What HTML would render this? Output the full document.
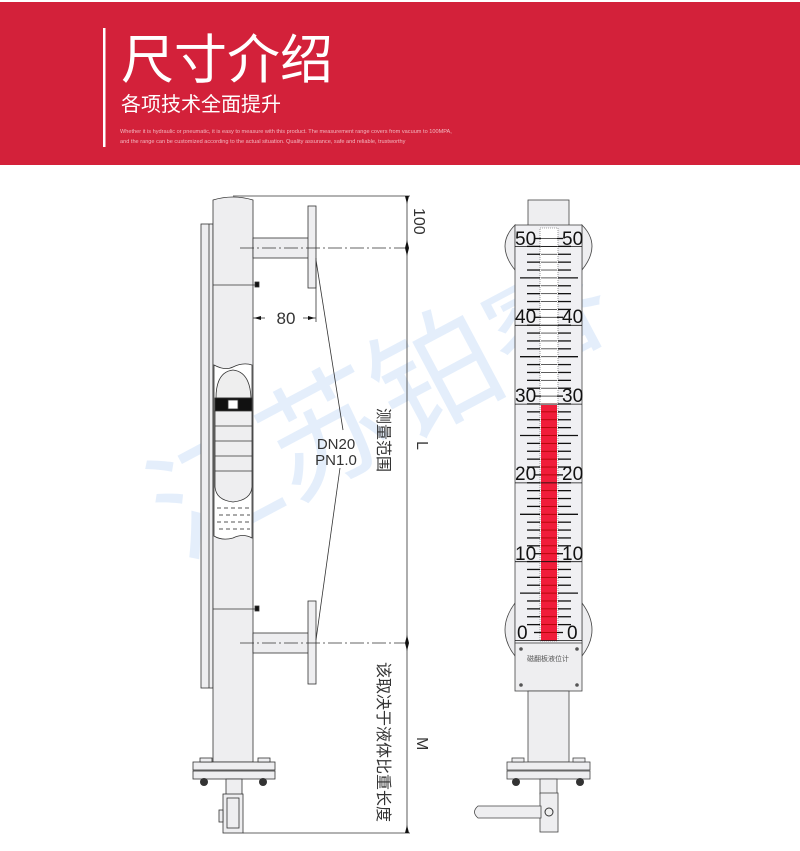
<!DOCTYPE html>
<html><head><meta charset="utf-8"><style>
html,body{margin:0;padding:0;background:#fff;width:800px;height:851px;overflow:hidden}
svg{display:block}
text{font-family:"Liberation Sans","Noto Sans CJK SC",sans-serif}
</style></head><body>
<svg width="800" height="851" viewBox="0 0 800 851" xmlns="http://www.w3.org/2000/svg">
<rect x="0" y="2" width="800" height="163" fill="#d3213a"/>
<rect x="103" y="28" width="2.5" height="119" fill="#fff"/>
<text x="121" y="78" font-size="53" fill="#fff" font-family="'Noto Sans CJK SC',sans-serif">尺寸介绍</text>
<text x="121" y="111" font-size="20" fill="#fff" font-family="'Noto Sans CJK SC',sans-serif">各项技术全面提升</text>
<text x="120" y="133" font-size="5.6" fill="#f2b8c0">Whether it is hydraulic or pneumatic, it is easy to measure with this product. The measurement range covers from vacuum to 100MPA,</text>
<text x="120" y="143" font-size="5.6" fill="#f2b8c0">and the range can be customized according to the actual situation. Quality assurance, safe and reliable, trustworthy</text>

<!-- watermark -->
<g fill="#d9e8fa" font-family="'Noto Serif CJK SC',serif" font-size="125" opacity="0.7">
<text transform="translate(180,560) rotate(-28)">江苏铂睿</text>
</g>

<g stroke="#333" stroke-width="0.8" fill="#eeeef0">
<rect x="201" y="224" width="12" height="464"/>
<line x1="209" y1="224" x2="209" y2="688"/>
<path d="M213 200 Q233 194 253 200 L253 762 L213 762 Z"/>
<line x1="213" y1="285" x2="257" y2="285"/>
<line x1="213" y1="609" x2="257" y2="609"/>
<rect x="255" y="282" width="4" height="5" fill="#111"/>
<rect x="255" y="606" width="4" height="5" fill="#111"/>
<rect x="253" y="238" width="56" height="20"/>
<rect x="308" y="206" width="8" height="82"/>
<rect x="253" y="633" width="56" height="20"/>
<rect x="308" y="601" width="8" height="83"/>
<path d="M214 365 Q225 371 233 367 Q243 362 252 365 L252 538 Q243 533 233 538 Q222 541 214 536 Z" fill="#fff"/>
<path d="M216 398 Q216 372 233 370 Q250 372 251 398 Z" fill="#eee"/>
<rect x="215" y="398" width="37" height="13" fill="#111"/>
<rect x="228" y="400" width="10" height="9" fill="#fff"/>
<path d="M215 411 L252 411 L252 487 Q251 500 233 502 Q216 500 215 487 Z"/>
<line x1="215" y1="426" x2="252" y2="426"/><line x1="215" y1="441" x2="252" y2="441"/>
<line x1="215" y1="456" x2="252" y2="456"/><line x1="215" y1="471" x2="252" y2="471"/>
</g>
<g stroke="#555" stroke-width="0.9" stroke-dasharray="4,3">
<line x1="217" y1="508" x2="250" y2="508"/><line x1="219" y1="515" x2="250" y2="515"/>
<line x1="217" y1="522" x2="250" y2="522"/><line x1="219" y1="529" x2="250" y2="529"/>
</g>
<g stroke="#333" stroke-width="0.8" fill="#eeeef0">
<rect x="193" y="762" width="82" height="8"/>
<rect x="193" y="771" width="82" height="8"/>
<rect x="200" y="758" width="12" height="4"/><rect x="258" y="758" width="12" height="4"/>
<rect x="226" y="779" width="16" height="18"/>
<rect x="223" y="794" width="20" height="39"/>
<rect x="227" y="798" width="12" height="30"/>
<rect x="219" y="810" width="4" height="12"/>
</g>
<circle cx="204" cy="782" r="4" fill="#333"/><circle cx="263" cy="782" r="4" fill="#333"/>

<g stroke="#333" stroke-width="0.8" fill="none">
<line x1="240" y1="248" x2="405" y2="248" stroke-dasharray="14,3,2,3"/>
<line x1="240" y1="643" x2="405" y2="643" stroke-dasharray="14,3,2,3"/>
<line x1="233" y1="196" x2="410" y2="196"/>
<line x1="243" y1="833" x2="410" y2="833"/>
<line x1="407" y1="196" x2="407" y2="833"/>
<line x1="316" y1="258" x2="316" y2="322"/>
<line x1="253" y1="318" x2="265" y2="318"/><line x1="303" y1="318" x2="316" y2="318"/>
<line x1="316" y1="260" x2="343" y2="430"/>
<line x1="340" y1="468" x2="316" y2="640"/>
</g>
<g fill="#111">
<path d="M407 204 l-2 -8 h4z"/><path d="M407 240 l-2 8 h4z"/><path d="M407 256 l-2 -8 h4z"/>
<path d="M407 635 l-2 8 h4z"/><path d="M407 651 l-2 -8 h4z"/><path d="M407 825 l-2 8 h4z"/>
<path d="M254 318 l7 -2 v4z"/><path d="M315 318 l-7 -2 v4z"/>
</g>
<text x="286" y="324" font-size="17" fill="#333" text-anchor="middle">80</text>
<text x="336" y="449" font-size="15" fill="#333" text-anchor="middle">DN20</text>
<text x="336" y="465" font-size="15" fill="#333" text-anchor="middle">PN1.0</text>
<text transform="translate(414,208) rotate(90)" font-size="16" fill="#333">100</text>
<text transform="translate(417,441) rotate(90)" font-size="16" fill="#333">L</text>
<text transform="translate(417,737) rotate(90)" font-size="16" fill="#333">M</text>
<text transform="translate(378,408) rotate(90)" font-size="16" fill="#333" font-family="'Noto Sans CJK SC',sans-serif">测量范围</text>
<text transform="translate(378,662) rotate(90)" font-size="16" fill="#333" font-family="'Noto Sans CJK SC',sans-serif">该取决于液体比重长度</text>

<g stroke="#444" stroke-width="0.8" fill="#eeeef0">
<path d="M515 225 Q495 245 515 270 Z"/><path d="M582 225 Q602 245 582 270 Z"/>
<path d="M515 603 Q495 630 515 656 Z"/><path d="M582 603 Q602 630 582 656 Z"/>
<rect x="528" y="200" width="41" height="26"/>
<rect x="515" y="225" width="67" height="420" fill="#f0f0f3"/>
<rect x="515" y="643" width="67" height="48"/>
<rect x="528" y="691" width="41" height="71"/>
<rect x="507" y="762" width="83" height="8"/>
<rect x="507" y="771" width="83" height="8"/>
<rect x="512" y="758" width="12" height="4"/><rect x="573" y="758" width="12" height="4"/>
<rect x="540" y="779" width="17" height="15"/>
<rect x="540" y="793" width="18" height="39"/>
<path d="M541 806 L478 806 Q471 812 478 818 L541 818 Z"/>
</g>
<circle cx="516" cy="782" r="4" fill="#333"/><circle cx="580" cy="782" r="4" fill="#333"/>
<circle cx="549" cy="812" r="4" fill="#eee" stroke="#333"/>
<circle cx="521" cy="649" r="1.8" fill="#555"/><circle cx="577" cy="649" r="1.8" fill="#555"/>
<circle cx="521" cy="685" r="1.8" fill="#555"/><circle cx="577" cy="685" r="1.8" fill="#555"/>
<text x="548" y="661" font-size="7" fill="#555" text-anchor="middle" font-family="'Noto Sans CJK SC',sans-serif">磁翻板液位计</text>
<rect x="540" y="228" width="18" height="413" fill="#fff" stroke="#555" stroke-width="0.6" stroke-dasharray="1,1"/>
<rect x="541" y="405" width="16" height="236" fill="#f01d3a"/>
<g id="ticks" stroke="#111" stroke-width="1.3"></g>
<g font-size="19" fill="#111" font-family="'Liberation Sans Narrow','Liberation Sans',sans-serif">
<text x="515" y="245">50</text><text x="562" y="245">50</text>
<text x="515" y="323">40</text><text x="562" y="323">40</text>
<text x="515" y="402">30</text><text x="562" y="402">30</text>
<text x="515" y="480">20</text><text x="562" y="480">20</text>
<text x="515" y="560">10</text><text x="562" y="560">10</text>
<text x="517" y="639">0</text><text x="567" y="639">0</text>
</g>
</svg>
<script>
var g=document.getElementById('ticks'),s='';
for(var i=0;i<=50;i++){var y=632.5-i*7.88;
if(i%10==0){s+='<line x1="515" y1="'+(y+8)+'" x2="582" y2="'+(y+8)+'" stroke-width="0.8"/><line x1="534" y1="'+y+'" x2="541" y2="'+y+'"/><line x1="557" y1="'+y+'" x2="563" y2="'+y+'"/>';}
else{var l=(i%5==0)?20:13;s+='<line x1="'+(540-l)+'" y1="'+y+'" x2="540" y2="'+y+'"/><line x1="558" y1="'+y+'" x2="'+(558+l)+'" y2="'+y+'"/>';}
s+='<line x1="541" y1="'+y+'" x2="557" y2="'+y+'" stroke="'+(i<30?'#a00':'#333')+'" stroke-width="0.8"/>';}
g.innerHTML=s;
</script>
</body></html>
